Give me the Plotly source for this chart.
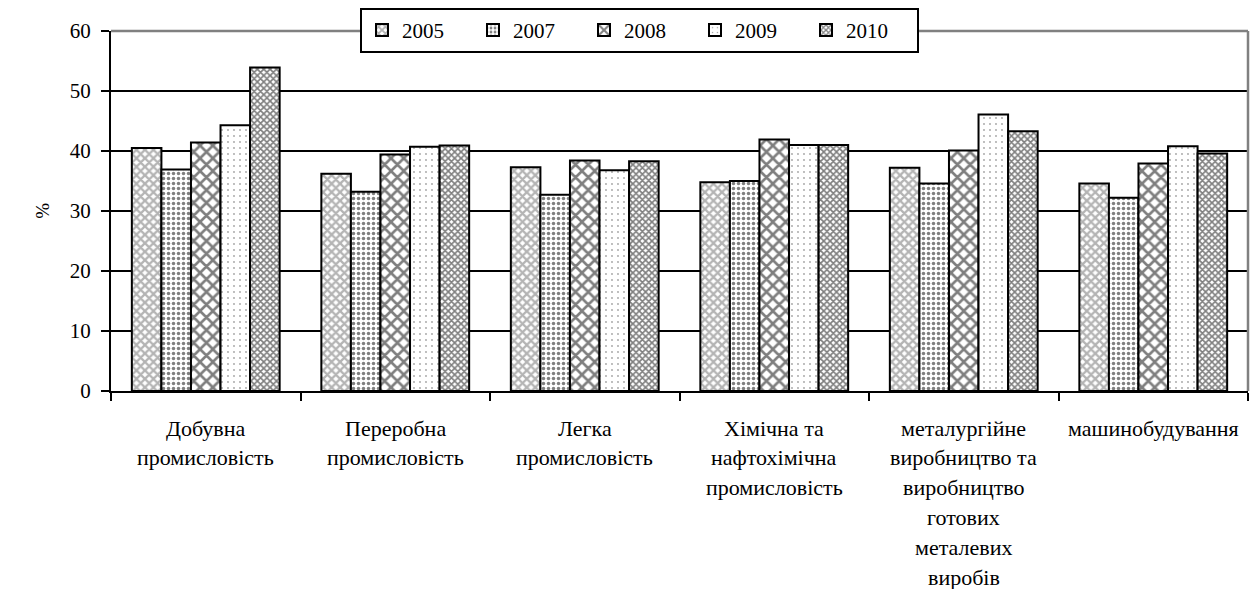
import plotly.graph_objects as go

categories = [
    "Добувна<br>промисловість",
    "Переробна<br>промисловість",
    "Легка<br>промисловість",
    "Хімічна та<br>нафтохімічна<br>промисловість",
    "металургійне<br>виробництво та<br>виробництво<br>готових<br>металевих<br>виробів",
    "машинобудування",
]
years = ["2005", "2007", "2008", "2009", "2010"]
v2005 = [40.5, 36.2, 37.3, 34.8, 37.2, 34.6]
v2007 = [36.9, 33.2, 32.7, 35.0, 34.6, 32.2]
v2008 = [41.4, 39.4, 38.4, 41.9, 40.1, 37.9]
v2009 = [44.3, 40.7, 36.8, 41.0, 46.1, 40.8]
v2010 = [53.9, 40.9, 38.3, 41.0, 43.3, 39.6]
y_ticks = [0, 10, 20, 30, 40, 50, 60]

series = [v2005, v2007, v2008, v2009, v2010]
patterns = [
    dict(shape="x", fgcolor="#6a6a6a", bgcolor="white", size=6, solidity=0.62),
    dict(shape=".", fgcolor="black", bgcolor="white", size=5, solidity=0.38),
    dict(shape="x", fgcolor="black", bgcolor="white", size=9, solidity=0.5),
    dict(shape=".", fgcolor="#444444", bgcolor="white", size=6, solidity=0.07),
    dict(shape="x", fgcolor="black", bgcolor="white", size=4.5, solidity=0.6),
]

FONT = "Liberation Serif"

fig = go.Figure()
for name, vals, pat in zip(years, series, patterns):
    fig.add_trace(go.Bar(
        x=categories, y=vals, name=name,
        marker=dict(color="white", pattern=pat,
                    line=dict(color="black", width=2)),
    ))

# category labels as multi-line annotations (wider line spacing)
for cat in categories:
    for i, line in enumerate(cat.split("<br>")):
        fig.add_annotation(x=cat, y=0, xref="x", yref="y", text=line,
                           showarrow=False, yanchor="middle", xanchor="center",
                           yshift=-(37 + 29.8 * i),
                           font=dict(family=FONT, size=22, color="black"))

fig.add_annotation(x=-0.061, y=0.5, xref="paper", yref="paper", text="%",
                   showarrow=False, textangle=-90, xanchor="center",
                   yanchor="middle",
                   font=dict(family=FONT, size=19, color="black"))

# gray frame (top and right)
fig.add_shape(type="line", xref="paper", yref="paper", x0=0, x1=1, y0=1, y1=1,
              line=dict(color="#808080", width=2.5), layer="above")
fig.add_shape(type="line", xref="paper", yref="paper", x0=1, x1=1, y0=0, y1=1,
              line=dict(color="#808080", width=2.5), layer="above")

fig.update_layout(
    width=1256, height=589,
    margin=dict(l=111, r=8, t=31, b=198),
    paper_bgcolor="white", plot_bgcolor="white",
    barmode="group", bargap=0.22, bargroupgap=0,
    font=dict(family=FONT, size=20, color="black"),
    legend=dict(orientation="h", x=0.219, y=1.064, xanchor="left", yanchor="top",
                bordercolor="black", borderwidth=2, bgcolor="white",
                font=dict(family=FONT, size=21, color="black"),
                entrywidth=66, entrywidthmode="pixels",
                itemwidth=30, traceorder="normal"),
    showlegend=True,
)
fig.update_xaxes(showticklabels=False, ticks="outside", tickson="boundaries",
                 ticklen=8, tickwidth=2, tickcolor="black",
                 showline=True, linecolor="black", linewidth=2,
                 showgrid=False, zeroline=False)
fig.update_yaxes(range=[0, 60], tickvals=y_ticks, ticks="outside", ticklen=8,
                 tickwidth=2, tickcolor="black",
                 tickfont=dict(family=FONT, size=21, color="black"),
                 showline=True, linecolor="black", linewidth=2,
                 showgrid=True, gridcolor="black", gridwidth=2,
                 zeroline=False, ticklabelstandoff=6)

fig.write_html("out.html", config={"displayModeBar": False},
               post_script="document.body.style.margin='0px';document.body.style.overflow='hidden';")
